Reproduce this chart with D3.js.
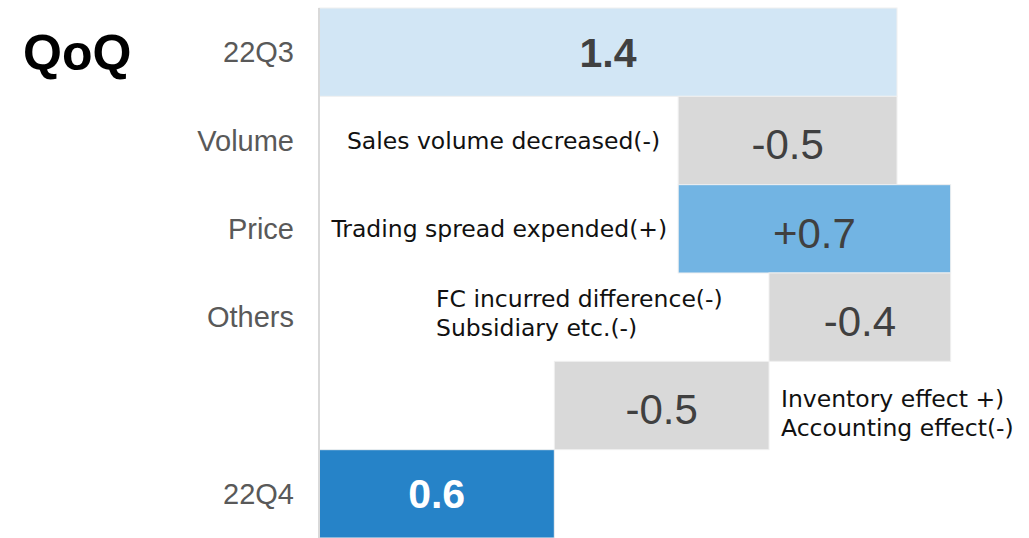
<!DOCTYPE html>
<html>
<head>
<meta charset="utf-8">
<script src="https://cdn.jsdelivr.net/npm/d3@7"></script>
<style>
  body { margin: 0; background: #fff; }
  svg { display: block; }
</style>
</head>
<body>
<div class="chart"></div>
<script>
// rows of the waterfall, top to bottom
var categories = ["22Q3", "Volume", "Price", "Others", "", "22Q4"];
var values = [1.40, -0.53, 0.66, -0.44, -0.52, 0.57];
var kinds = ["start", "step", "step", "step", "step", "end"];
var labels = ["1.4", "-0.5", "+0.7", "-0.4", "-0.5", "0.6"];
var notes = [
    [],
    ["Sales volume decreased(-)"],
    ["Trading spread expended(+)"],
    ["FC incurred difference(-)", "Subsidiary etc.(-)"],
    ["Inventory effect +)", "Accounting effect(-)"],
    []
];

var width = 1029,
    height = 538,
    axisX = 319;

var fills = {
    start: "#D2E6F5",
    up: "#72B4E3",
    down: "#D9D9D9",
    end: "#2683C8"
};

// running sum -> from/to for each bar
var rows = [], run = 0;
categories.forEach(function (c, i) {
    var from, to;
    if (kinds[i] === "step") {
        from = run; to = run + values[i]; run = to;
    } else {
        from = 0; to = values[i]; run = values[i];
    }
    rows.push({
        cat: c, i: i, from: from, to: to, label: labels[i], notes: notes[i],
        fill: kinds[i] === "step" ? (values[i] < 0 ? fills.down : fills.up) : fills[kinds[i]],
        kind: kinds[i]
    });
});

var x = d3.scaleLinear().domain([0, 1.4]).range([axisX, 897]);
var y = d3.scaleBand().domain(d3.range(categories.length)).range([8, 538]).padding(0);

var svg = d3.select(".chart").append("svg")
    .attr("width", width)
    .attr("height", height);

// title
svg.append("text")
    .attr("x", 23).attr("y", 70)
    .style("font-family", "Liberation Sans, Arial, sans-serif")
    .style("font-weight", "bold")
    .style("font-size", "50px")
    .attr("fill", "#000")
    .text("QoQ");

// bars
svg.selectAll("rect.bar")
    .data(rows)
    .enter()
    .append("rect")
    .attr("class", "bar")
    .attr("x", function (d) { return x(Math.min(d.from, d.to)); })
    .attr("y", function (d) { return y(d.i); })
    .attr("width", function (d) { return Math.abs(x(d.to) - x(d.from)); })
    .attr("height", y.bandwidth())
    .attr("fill", function (d) { return d.fill; })
    .attr("stroke", "#f0f0f0")
    .attr("stroke-width", 1);

// vertical axis line
svg.append("line")
    .attr("x1", axisX).attr("x2", axisX)
    .attr("y1", 8).attr("y2", 538)
    .attr("stroke", "#D9D9D9")
    .attr("stroke-width", 2);

// category labels
svg.selectAll("text.cat")
    .data(rows)
    .enter()
    .append("text")
    .attr("class", "cat")
    .attr("x", 294)
    .attr("y", function (d) { return y(d.i) + y.bandwidth() / 2; })
    .attr("dy", "0.35em")
    .attr("text-anchor", "end")
    .style("font-family", "Liberation Sans, Arial, sans-serif")
    .style("font-size", "29px")
    .attr("fill", "#595959")
    .text(function (d) { return d.cat; });

// value labels
svg.selectAll("text.val")
    .data(rows)
    .enter()
    .append("text")
    .attr("class", "val")
    .attr("x", function (d) { return (x(d.from) + x(d.to)) / 2; })
    .attr("y", function (d) { return y(d.i) + y.bandwidth() / 2 + (d.kind === "step" ? 4 : 0); })
    .attr("dy", "0.35em")
    .attr("text-anchor", "middle")
    .style("font-family", "Liberation Sans, Arial, sans-serif")
    .style("font-weight", function (d) { return d.kind === "step" ? "normal" : "bold"; })
    .style("font-size", function (d) { return d.kind === "step" ? "42px" : "41px"; })
    .attr("fill", function (d) { return d.kind === "end" ? "#fff" : "#404040"; })
    .text(function (d) { return d.label; });

// notes next to the step bars
var noteGap = { 1: -18, 2: -11, 3: -333, 4: 12 };
var noteAnchor = { 1: "end", 2: "end", 3: "start", 4: "start" };

rows.forEach(function (d) {
    if (!d.notes.length) return;
    var left = x(Math.min(d.from, d.to)),
        right = x(Math.max(d.from, d.to)),
        nx = d.i === 4 ? right + noteGap[d.i] : left + noteGap[d.i],
        cy = y(d.i) + y.bandwidth() / 2,
        lh = 29,
        top = d.notes.length === 1 ? cy : cy - lh / 2 - (d.i === 3 ? 4 : -8);

    var t = svg.append("text")
        .attr("x", nx)
        .attr("text-anchor", noteAnchor[d.i])
        .style("font-family", "DejaVu Sans, Verdana, sans-serif")
        .style("font-size", "23.5px")
        .attr("fill", "#111");

    d.notes.forEach(function (line, k) {
        t.append("tspan")
            .attr("x", nx)
            .attr("y", top + k * lh)
            .attr("dy", "0.35em")
            .text(line);
    });
});
</script>
</body>
</html>
